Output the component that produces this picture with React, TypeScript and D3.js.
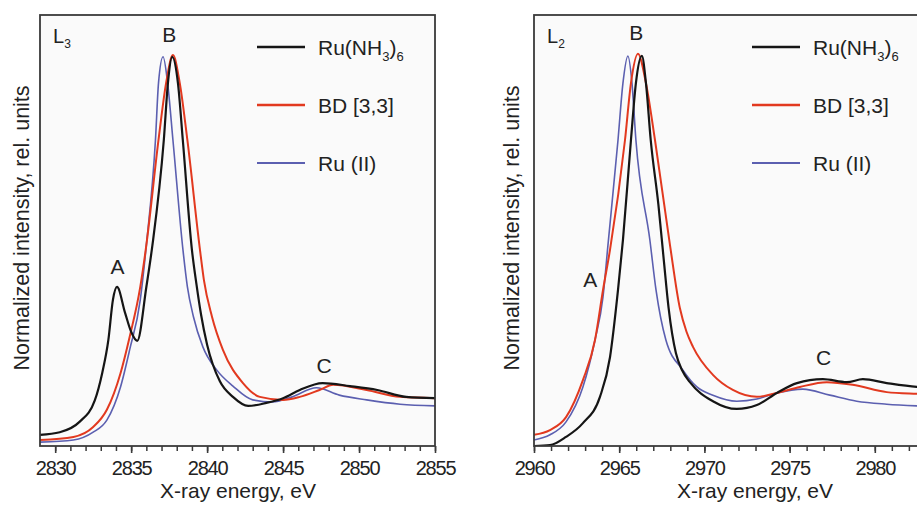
import React, { useEffect, useRef } from 'react';
import * as d3 from 'd3';

// L3 edge, Ru(NH3)6
const l3RuNh3Energy = [2829.0, 2830.3, 2831.6, 2832.6, 2833.1, 2833.5, 2833.8, 2834.07, 2834.6, 2835.0, 2835.4, 2836.0, 2836.4, 2837.15, 2837.42, 2837.7, 2838.08, 2838.4, 2839.0, 2839.3, 2839.6, 2840.0, 2840.84, 2841.7, 2842.7, 2843.9, 2845.0, 2846.1, 2847.6, 2849.4, 2851.2, 2853.1, 2855.0];
const l3RuNh3Value = [0.026, 0.032, 0.056, 0.105, 0.17, 0.246, 0.339, 0.369, 0.309, 0.265, 0.244, 0.369, 0.466, 0.71, 0.842, 0.903, 0.842, 0.71, 0.455, 0.375, 0.305, 0.235, 0.15, 0.114, 0.093, 0.1, 0.111, 0.13, 0.146, 0.139, 0.13, 0.114, 0.111];
// L3 edge, BD [3,3]
const l3BdEnergy = [2829.0, 2831.2, 2832.5, 2833.4, 2834.3, 2834.9, 2835.6, 2836.0, 2836.8, 2837.3, 2837.75, 2838.2, 2838.7, 2839.53, 2839.79, 2840.32, 2841.04, 2842.36, 2843.47, 2845.0, 2846.1, 2847.4, 2848.3, 2850.5, 2852.7, 2855.0];
const l3BdValue = [0.014, 0.021, 0.044, 0.084, 0.169, 0.253, 0.369, 0.466, 0.71, 0.842, 0.907, 0.842, 0.71, 0.455, 0.385, 0.3, 0.223, 0.146, 0.114, 0.107, 0.114, 0.13, 0.142, 0.13, 0.114, 0.111];
// L3 edge, Ru (II)
const l3Ru2Energy = [2829.0, 2831.2, 2832.5, 2833.4, 2834.3, 2834.9, 2835.6, 2836.0, 2836.6, 2836.8, 2837.1, 2837.4, 2837.75, 2838.41, 2838.7, 2839.1, 2839.72, 2840.64, 2841.7, 2843.0, 2844.3, 2845.6, 2847.2, 2848.7, 2850.5, 2852.7, 2855.0];
const l3Ru2Value = [0.009, 0.014, 0.032, 0.06, 0.137, 0.223, 0.339, 0.466, 0.71, 0.842, 0.903, 0.842, 0.71, 0.455, 0.37, 0.3, 0.23, 0.176, 0.139, 0.107, 0.102, 0.114, 0.135, 0.118, 0.107, 0.097, 0.093];

// L2 edge, Ru(NH3)6
const l2RuNh3Energy = [2960.0, 2960.94, 2961.88, 2962.87, 2963.87, 2964.46, 2964.93, 2965.22, 2965.69, 2965.98, 2966.33, 2966.57, 2966.85, 2967.3, 2967.62, 2967.9, 2968.33, 2968.7, 2969.15, 2970.5, 2971.9, 2973.08, 2974.25, 2975.43, 2976.95, 2978.36, 2979.3, 2980.7, 2982.46, 2985.0];
const l2RuNh3Value = [0.0, 0.002, 0.021, 0.053, 0.114, 0.206, 0.362, 0.478, 0.71, 0.842, 0.905, 0.842, 0.71, 0.56, 0.43, 0.32, 0.215, 0.175, 0.148, 0.104, 0.086, 0.095, 0.123, 0.146, 0.155, 0.148, 0.155, 0.146, 0.137, 0.133];
// L2 edge, BD [3,3]
const l2BdEnergy = [2960.0, 2960.94, 2961.88, 2962.87, 2963.58, 2964.05, 2964.46, 2965.34, 2965.69, 2966.1, 2966.57, 2967.1, 2967.98, 2968.56, 2968.95, 2969.33, 2970.5, 2971.67, 2973.08, 2974.25, 2975.6, 2977.18, 2978.7, 2980.7, 2982.46, 2985.0];
const l2BdValue = [0.026, 0.037, 0.067, 0.153, 0.246, 0.362, 0.455, 0.71, 0.842, 0.91, 0.842, 0.71, 0.466, 0.32, 0.265, 0.23, 0.165, 0.13, 0.114, 0.123, 0.137, 0.148, 0.142, 0.125, 0.121, 0.118];
// L2 edge, Ru (II)
const l2Ru2Energy = [2960.0, 2960.94, 2961.88, 2962.87, 2963.58, 2964.05, 2964.34, 2964.93, 2965.22, 2965.51, 2965.75, 2965.98, 2966.8, 2967.16, 2967.74, 2968.74, 2969.56, 2970.5, 2971.9, 2973.08, 2974.25, 2975.78, 2977.36, 2978.94, 2980.7, 2982.46, 2985.0];
const l2Ru2Value = [0.014, 0.026, 0.056, 0.137, 0.246, 0.346, 0.466, 0.71, 0.842, 0.905, 0.842, 0.71, 0.478, 0.362, 0.246, 0.176, 0.137, 0.118, 0.104, 0.109, 0.123, 0.132, 0.118, 0.104, 0.097, 0.093, 0.09];

const seriesNames = ['Ru(NH3)6', 'BD [3,3]', 'Ru (II)'];
const seriesColors = ['#151515', '#e2391f', '#5b5fb0'];
const seriesWidths = [2.2, 2.0, 1.6];
const FONT = "'Liberation Sans', Arial, sans-serif";

function App() {
  const svgRef = useRef(null);

  useEffect(() => {
    const svg = d3.select(svgRef.current);
    svg.selectAll('*').remove();

    const top = 15;
    const bottom = 446;

    const panels = [
      {
        id: 'l3', edge: '3', domain: [2829, 2855], range: [40, 435],
        ticks: [2830, 2855], labelTicks: [2830, 2855], titleX: 238, yTitleX: 29,
        legendX: 257,
        labels: [{ t: 'A', e: 2834.1, v: 0.40 }, { t: 'B', e: 2837.5, v: 0.938 }, { t: 'C', e: 2847.7, v: 0.17 }],
        series: [[l3RuNh3Energy, l3RuNh3Value], [l3BdEnergy, l3BdValue], [l3Ru2Energy, l3Ru2Value]],
      },
      {
        id: 'l2', edge: '2', domain: [2960, 2985], range: [534, 960],
        ticks: [2960, 2985], labelTicks: [2960, 2980], titleX: 755, yTitleX: 519,
        legendX: 752,
        labels: [{ t: 'A', e: 2963.3, v: 0.37 }, { t: 'B', e: 2966.0, v: 0.943 }, { t: 'C', e: 2977.0, v: 0.188 }],
        series: [[l2RuNh3Energy, l2RuNh3Value], [l2BdEnergy, l2BdValue], [l2Ru2Energy, l2Ru2Value]],
      },
    ];

    panels.forEach(p => {
      const x = d3.scaleLinear().domain(p.domain).range(p.range);
      const y = d3.scaleLinear().domain([0, 1]).range([bottom, top]);
      const g = svg.append('g');

      // plot background
      g.append('rect')
        .attr('x', p.range[0]).attr('y', top)
        .attr('width', p.range[1] - p.range[0]).attr('height', bottom - top)
        .attr('fill', '#fafafa');

      g.append('clipPath').attr('id', 'clip-' + p.id)
        .append('rect')
        .attr('x', p.range[0]).attr('y', top)
        .attr('width', p.range[1] - p.range[0]).attr('height', bottom - top);

      const line = d3.line()
        .x(d => x(d[0]))
        .y(d => y(d[1]))
        .curve(d3.curveMonotoneX);

      // blue first, black on top
      [2, 1, 0].forEach(i => {
        const [es, vs] = p.series[i];
        g.append('path')
          .datum(es.map((e, k) => [e, vs[k]]))
          .attr('clip-path', `url(#clip-${p.id})`)
          .attr('fill', 'none')
          .attr('stroke', seriesColors[i])
          .attr('stroke-width', seriesWidths[i])
          .attr('stroke-linejoin', 'round')
          .attr('d', line);
      });

      // frame
      g.append('rect')
        .attr('x', p.range[0]).attr('y', top)
        .attr('width', p.range[1] - p.range[0]).attr('height', bottom - top)
        .attr('fill', 'none').attr('stroke', '#3a3a3a').attr('stroke-width', 1.8);

      // minor ticks
      const minor = g.append('g').attr('transform', `translate(0,${bottom})`)
        .call(d3.axisBottom(x).tickValues(d3.range(p.ticks[0], p.ticks[1] + 1, 1)).tickSize(5).tickFormat(() => ''));
      minor.select('.domain').remove();
      minor.selectAll('line').attr('stroke', '#3a3a3a').attr('stroke-width', 1.5);

      // major ticks with labels
      const major = g.append('g').attr('transform', `translate(0,${bottom})`)
        .call(d3.axisBottom(x).tickValues(d3.range(p.labelTicks[0], p.labelTicks[1] + 1, 5)).tickSize(7).tickPadding(8).tickFormat(d3.format('d')));
      major.select('.domain').remove();
      major.selectAll('line').attr('stroke', '#3a3a3a').attr('stroke-width', 1.6);
      major.selectAll('text')
        .attr('font-family', FONT).attr('font-size', 20)
        .attr('letter-spacing', -1.2).attr('fill', '#222');

      // axis titles
      g.append('text')
        .attr('x', p.titleX).attr('y', 498)
        .attr('text-anchor', 'middle')
        .attr('font-family', FONT).attr('font-size', 21).attr('fill', '#222')
        .text('X-ray energy, eV');

      g.append('text')
        .attr('transform', `translate(${p.yTitleX},228) rotate(-90)`)
        .attr('text-anchor', 'middle')
        .attr('font-family', FONT).attr('font-size', 21.5).attr('fill', '#222')
        .text('Normalized intensity, rel. units');

      // edge label
      const edge = g.append('text')
        .attr('x', p.range[0] + 13).attr('y', 43)
        .attr('font-family', FONT).attr('font-size', 20).attr('fill', '#222');
      edge.append('tspan').text('L');
      edge.append('tspan').attr('font-size', 12).attr('dy', 5).text(p.edge);

      // peak letters
      p.labels.forEach(l => {
        g.append('text')
          .attr('x', x(l.e)).attr('y', y(l.v))
          .attr('text-anchor', 'middle')
          .attr('font-family', FONT).attr('font-size', 21).attr('fill', '#222')
          .text(l.t);
      });

      // legend
      const legend = g.append('g');
      seriesNames.forEach((name, i) => {
        const ly = 47 + i * 58;
        legend.append('line')
          .attr('x1', p.legendX).attr('x2', p.legendX + 48)
          .attr('y1', ly).attr('y2', ly)
          .attr('stroke', seriesColors[i]).attr('stroke-width', seriesWidths[i] + 0.3);
        const t = legend.append('text')
          .attr('x', p.legendX + 61).attr('y', ly + 7.5)
          .attr('font-family', FONT).attr('font-size', 21).attr('fill', '#222');
        if (i === 0) {
          t.append('tspan').text('Ru(NH');
          t.append('tspan').attr('font-size', 13).attr('dy', 6).text('3');
          t.append('tspan').attr('dy', -6).text(')');
          t.append('tspan').attr('font-size', 13).attr('dy', 6).text('6');
        } else {
          t.text(name);
        }
      });
    });
  }, []);

  return (
    <svg ref={svgRef} width={917} height={505}
      style={{ position: 'absolute', left: 0, top: 0, background: '#ffffff' }}></svg>
  );
}

export default App;
